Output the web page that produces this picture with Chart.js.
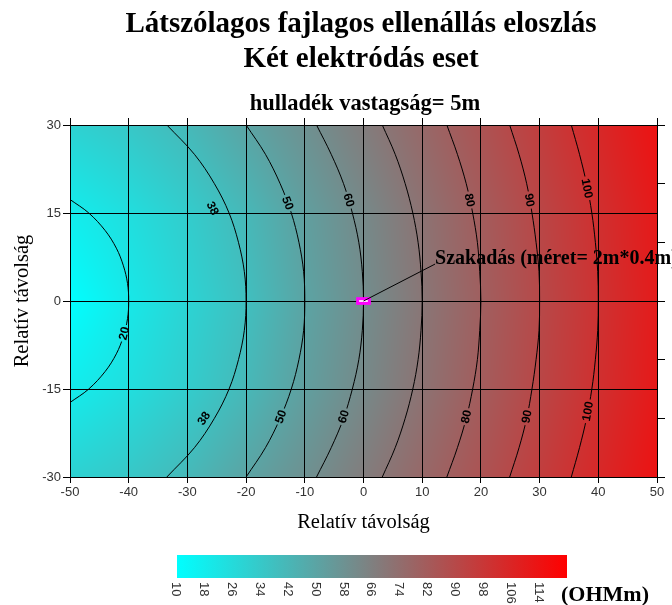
<!DOCTYPE html>
<html>
<head>
<meta charset="utf-8">
<title>Látszólagos fajlagos ellenállás eloszlás</title>
<script src="https://cdn.jsdelivr.net/npm/chart.js@4.4.1/dist/chart.umd.min.js"></script>
<style>
  html, body { margin: 0; padding: 0; background: #fff; }
  #c { display: block; }
</style>
</head>
<body>
<canvas id="c" width="672" height="605"></canvas>
<script>
// ---- axis ticks ----
const xTicks = [-50, -40, -30, -20, -10, 0, 10, 20, 30, 40, 50];
const yTicks = [-30, -15, 0, 15, 30];
const yRightTicks = [-30, -20, -10, 0, 10, 20, 30];

// ---- apparent resistivity (OHMm) at grid nodes ----
const gridX = [-50, -40, -30, -20, -10, 0, 10, 20, 30, 40, 50];
const gridY = [30, 15, 0, -15, -30];
const rhoY30  = [30, 34.5, 40.9, 50, 58.3, 67.1, 76.2, 85.4, 94.9, 104.4, 114];
const rhoY15  = [18, 24.5, 32.2, 41.2, 52.2, 61.8, 71.6, 81.4, 91.2, 101.1, 111];
const rhoY0   = [10, 20, 29, 38, 50, 60, 70, 80, 90, 100, 110];
const rhoYm15 = [18, 24.5, 32.2, 41.2, 52.2, 61.8, 71.6, 81.4, 91.2, 101.1, 111];
const rhoYm30 = [30, 34.5, 40.9, 50, 58.3, 67.1, 76.2, 85.4, 94.9, 104.4, 114];

// ---- isolines [x, y] ----
const contour20 = [[-50, 17.3], [-46.8, 15], [-44.0, 12], [-42.1, 9], [-40.9, 6], [-40.2, 3], [-40, 0],
  [-40.2, -3], [-40.9, -6], [-42.1, -9], [-44.0, -12], [-46.8, -15], [-50, -17.3]];
const contour38 = [[-33.5, 30], [-28.8, 25], [-25.4, 20], [-22.9, 15], [-21.3, 10], [-20.3, 5], [-20, 0],
  [-20.3, -5], [-21.3, -10], [-22.9, -15], [-25.4, -20], [-28.8, -25], [-33.5, -30]];
const contour50 = [[-20, 30], [-16.7, 25], [-14.2, 20], [-12.3, 15], [-11.0, 10], [-10.2, 5], [-10, 0],
  [-10.2, -5], [-11.0, -10], [-12.3, -15], [-14.2, -20], [-16.7, -25], [-20, -30]];
const contour60 = [[-8.0, 30], [-5.5, 25], [-3.4, 20], [-1.9, 15], [-0.8, 10], [-0.2, 5], [0, 0],
  [-0.2, -5], [-0.8, -10], [-1.9, -15], [-3.4, -20], [-5.5, -25], [-8.0, -30]];
const contour70 = [[3.2, 30], [5.4, 25], [7.1, 20], [8.4, 15], [9.3, 10], [9.8, 5], [10, 0],
  [9.8, -5], [9.3, -10], [8.4, -15], [7.1, -20], [5.4, -25], [3.2, -30]];
const contour80 = [[14.2, 30], [16.0, 25], [17.5, 20], [18.6, 15], [19.4, 10], [19.8, 5], [20, 0],
  [19.8, -5], [19.4, -10], [18.6, -15], [17.5, -20], [16.0, -25], [14.2, -30]];
const contour90 = [[24.9, 30], [26.5, 25], [27.8, 20], [28.7, 15], [29.4, 10], [29.9, 5], [30, 0],
  [29.9, -5], [29.4, -10], [28.7, -15], [27.8, -20], [26.5, -25], [24.9, -30]];
const contour100 = [[35.4, 30], [36.8, 25], [38.0, 20], [38.9, 15], [39.5, 10], [39.9, 5], [40, 0],
  [39.9, -5], [39.5, -10], [38.9, -15], [38.0, -20], [36.8, -25], [35.4, -30]];
const contourLines = [contour20, contour38, contour50, contour60, contour70, contour80, contour90, contour100];

// ---- isoline labels ----
const labelText = ['20', '38', '38', '50', '50', '60', '60', '80', '80', '90', '90', '100', '100'];
const labelX    = [-40.8, -25.7, -27.2, -12.9, -14.1, -2.5, -3.4, 18.1, 17.5, 28.3, 27.8, 38.1, 38.2];
const labelY    = [-5.5, 15.8, -20, 16.7, -19.7, 17.2, -19.7, 17.2, -19.7, 17.2, -19.7, 19.2, -18.8];
const labelLine = [0, 1, 1, 2, 2, 3, 3, 5, 5, 6, 6, 7, 7];

// ---- fracture (2 m x 0.4 m) and its callout ----
const breakX = [-1, 1];
const breakY = [-0.4, 0.4];
const calloutFrom = [0, 0];
const calloutTo = [12.2, 6.3];
const calloutText = 'Szakadás (méret= 2m*0.4m)';

// ---- colour scale ----
const scaleMin = 10;
const scaleMax = 122;
const scaleTicks = [10, 18, 26, 34, 42, 50, 58, 66, 74, 82, 90, 98, 106, 114];
const scaleUnit = '(OHMm)';

const titleLines = ['Látszólagos fajlagos ellenállás eloszlás', 'Két elektródás eset'];
const subtitleText = 'hulladék vastagság= 5m';
const axisTitle = 'Relatív távolság';

const SERIF = "'Liberation Serif', 'Times New Roman', serif";
const SANS = "'Liberation Sans', Arial, sans-serif";

function rhoColor(v) {
  let t = (v - scaleMin) / (scaleMax - scaleMin);
  t = Math.max(0, Math.min(1, t));
  return [Math.round(255 * t), Math.round(255 * (1 - t)), Math.round(255 * (1 - t))];
}

function bracket(arr, v, descending) {
  for (let i = 0; i < arr.length - 1; i++) {
    const a = arr[i], b = arr[i + 1];
    const lo = Math.min(a, b), hi = Math.max(a, b);
    if (v >= lo && v <= hi) return i;
  }
  return (descending ? (v > arr[0]) : (v < arr[0])) ? 0 : arr.length - 2;
}

// bilinear shading between grid nodes
function rhoAt(x, y) {
  const rows = [rhoY30, rhoY15, rhoY0, rhoYm15, rhoYm30];
  const i = bracket(gridX, x, false);
  const j = bracket(gridY, y, true);
  const tx = (x - gridX[i]) / (gridX[i + 1] - gridX[i]);
  const ty = (y - gridY[j]) / (gridY[j + 1] - gridY[j]);
  const v00 = rows[j][i], v10 = rows[j][i + 1], v01 = rows[j + 1][i], v11 = rows[j + 1][i + 1];
  return (v00 * (1 - tx) + v10 * tx) * (1 - ty) + (v01 * (1 - tx) + v11 * tx) * ty;
}

const fieldPlugin = {
  id: 'rhoField',
  beforeDraw(chart) {
    const { ctx, chartArea: a, scales: { x, y } } = chart;
    const w = Math.round(a.right - a.left), h = Math.round(a.bottom - a.top);
    const off = document.createElement('canvas');
    off.width = w; off.height = h;
    const octx = off.getContext('2d');
    const img = octx.createImageData(w, h);
    for (let j = 0; j < h; j++) {
      const yv = y.getValueForPixel(a.top + j + 0.5);
      for (let i = 0; i < w; i++) {
        const xv = x.getValueForPixel(a.left + i + 0.5);
        const c = rhoColor(rhoAt(xv, yv));
        const k = (j * w + i) * 4;
        img.data[k] = c[0]; img.data[k + 1] = c[1]; img.data[k + 2] = c[2]; img.data[k + 3] = 255;
      }
    }
    octx.putImageData(img, 0, 0);
    chart.$field = off;
    ctx.drawImage(off, a.left, a.top);
  }
};

const isoLabelPlugin = {
  id: 'isoLabels',
  afterDatasetsDraw(chart) {
    const { ctx, chartArea: a, scales: { x, y } } = chart;
    ctx.save();
    ctx.font = 'bold 12px ' + SANS;
    labelText.forEach((t, n) => {
      const px = x.getPixelForValue(labelX[n]);
      const py = y.getPixelForValue(labelY[n]);
      const pts = contourLines[labelLine[n]].map(p => [x.getPixelForValue(p[0]), y.getPixelForValue(p[1])]);
      let best = Infinity, dx = 0, dy = 1;
      for (let s = 0; s < pts.length - 1; s++) {
        const mx = (pts[s][0] + pts[s + 1][0]) / 2, my = (pts[s][1] + pts[s + 1][1]) / 2;
        const d = (mx - px) ** 2 + (my - py) ** 2;
        if (d < best) { best = d; dx = pts[s + 1][0] - pts[s][0]; dy = pts[s + 1][1] - pts[s][1]; }
      }
      if (dx < 0) { dx = -dx; dy = -dy; }
      const ang = Math.atan2(dy, dx);
      const tw = ctx.measureText(t).width;
      // open a gap in the isoline under the label
      ctx.save();
      ctx.translate(px, py); ctx.rotate(ang);
      ctx.beginPath(); ctx.rect(-tw / 2 - 2, -6, tw + 4, 12); ctx.clip();
      ctx.rotate(-ang); ctx.translate(-px, -py);
      ctx.drawImage(chart.$field, a.left, a.top);
      ctx.restore();
      ctx.save();
      ctx.translate(px, py); ctx.rotate(ang);
      ctx.fillStyle = '#000';
      ctx.textAlign = 'center'; ctx.textBaseline = 'middle';
      ctx.fillText(t, 0, 0.5);
      ctx.restore();
    });
    ctx.restore();
  }
};

const decorPlugin = {
  id: 'decor',
  afterDraw(chart) {
    const { ctx, scales: { x, y } } = chart;
    ctx.save();

    // titles
    ctx.fillStyle = '#000';
    ctx.textAlign = 'center';
    ctx.textBaseline = 'alphabetic';
    ctx.font = 'bold 29px ' + SERIF;
    ctx.fillText(titleLines[0], 361, 32);
    ctx.fillText(titleLines[1], 361, 67);
    ctx.font = 'bold 22.5px ' + SERIF;
    ctx.fillText(subtitleText, 365, 110);

    // fracture box
    const bx0 = x.getPixelForValue(breakX[0]), bx1 = x.getPixelForValue(breakX[1]);
    const by0 = y.getPixelForValue(breakY[1]), by1 = y.getPixelForValue(breakY[0]);
    ctx.fillStyle = '#fff';
    ctx.fillRect(bx0, by0, bx1 - bx0, by1 - by0);
    ctx.strokeStyle = '#ff00ff';
    ctx.lineWidth = 3;
    ctx.strokeRect(bx0, by0, bx1 - bx0, by1 - by0);

    // callout
    const cx0 = x.getPixelForValue(calloutFrom[0]), cy0 = y.getPixelForValue(calloutFrom[1]);
    const cx1 = x.getPixelForValue(calloutTo[0]), cy1 = y.getPixelForValue(calloutTo[1]);
    ctx.strokeStyle = '#000';
    ctx.lineWidth = 1;
    ctx.beginPath(); ctx.moveTo(cx0, cy0); ctx.lineTo(cx1, cy1); ctx.stroke();
    ctx.fillStyle = '#000';
    ctx.textAlign = 'left';
    ctx.font = 'bold 20px ' + SERIF;
    ctx.fillText(calloutText, cx1, cy1);

    // colour scale bar
    const barL = 177, barR = 567, barT = 555, barB = 578;
    const g = ctx.createLinearGradient(barL, 0, barR, 0);
    const c0 = rhoColor(scaleMin), c1 = rhoColor(scaleMax);
    g.addColorStop(0, `rgb(${c0.join(',')})`);
    g.addColorStop(1, `rgb(${c1.join(',')})`);
    ctx.fillStyle = g;
    ctx.fillRect(barL, barT, barR - barL, barB - barT);
    ctx.font = '13px ' + SANS;
    ctx.fillStyle = '#333';
    ctx.textBaseline = 'middle';
    scaleTicks.forEach(v => {
      const px = barL + (v - scaleMin) / (scaleMax - scaleMin) * (barR - barL) - 1;
      ctx.save();
      ctx.translate(px, 582);
      ctx.rotate(Math.PI / 2);
      ctx.textAlign = 'left';
      ctx.fillText(String(v), 0, 0);
      ctx.restore();
    });
    ctx.fillStyle = '#000';
    ctx.textBaseline = 'alphabetic';
    ctx.textAlign = 'left';
    ctx.font = 'bold 22px ' + SERIF;
    ctx.fillText(scaleUnit, 561, 601);

    ctx.restore();
  }
};

const datasets = contourLines.map(pts => ({
  data: pts.map(p => ({ x: p[0], y: p[1] })),
  showLine: true,
  borderColor: '#000',
  borderWidth: 1,
  pointRadius: 0,
  pointHoverRadius: 0,
  tension: 0.35,
  fill: false,
  clip: 0
}));

const tickFont = { family: SANS, size: 13 };
const gridBlack = { color: '#000', lineWidth: 1, z: 1, drawTicks: true };
const borderBlack = { color: '#000', width: 1, z: 1 };

new Chart(document.getElementById('c'), {
  type: 'scatter',
  data: { datasets },
  options: {
    responsive: false,
    animation: false,
    devicePixelRatio: 1,
    events: [],
    layout: { padding: { left: 0, right: 0, top: 115, bottom: 70 } },
    plugins: { legend: { display: false }, tooltip: { enabled: false }, title: { display: false } },
    scales: {
      x: {
        type: 'linear', position: 'bottom', min: -50, max: 50,
        afterBuildTicks: s => { s.ticks = xTicks.map(v => ({ value: v })); },
        afterFit: s => { s.height = 58; },
        grid: { ...gridBlack, tickLength: 6 },
        border: borderBlack,
        ticks: { color: '#333', font: tickFont, padding: 2, maxRotation: 0, autoSkip: false },
        title: { display: true, text: axisTitle, color: '#000', font: { family: SERIF, size: 20.5 }, padding: { top: 0, bottom: 0 } }
      },
      y: {
        type: 'linear', position: 'left', min: -30, max: 30,
        afterBuildTicks: s => { s.ticks = yTicks.map(v => ({ value: v })); },
        afterFit: s => { s.width = 70; },
        grid: { ...gridBlack, tickLength: 7 },
        border: borderBlack,
        ticks: { color: '#333', font: tickFont, padding: 2, autoSkip: false },
        title: { display: true, text: axisTitle, color: '#000', font: { family: SERIF, size: 20.5 }, padding: { top: 10, bottom: 0 } }
      },
      x2: {
        type: 'linear', position: 'top', min: -50, max: 50,
        afterBuildTicks: s => { s.ticks = xTicks.map(v => ({ value: v })); },
        afterFit: s => { s.height = 10; },
        grid: { ...gridBlack, drawOnChartArea: false, tickLength: 7 },
        border: borderBlack,
        ticks: { display: false }
      },
      y2: {
        type: 'linear', position: 'right', min: -30, max: 30,
        afterBuildTicks: s => { s.ticks = yRightTicks.map(v => ({ value: v })); },
        afterFit: s => { s.width = 15; },
        grid: { ...gridBlack, drawOnChartArea: false, tickLength: 8 },
        border: borderBlack,
        ticks: { display: false }
      }
    }
  },
  plugins: [fieldPlugin, isoLabelPlugin, decorPlugin]
});
</script>
</body>
</html>
